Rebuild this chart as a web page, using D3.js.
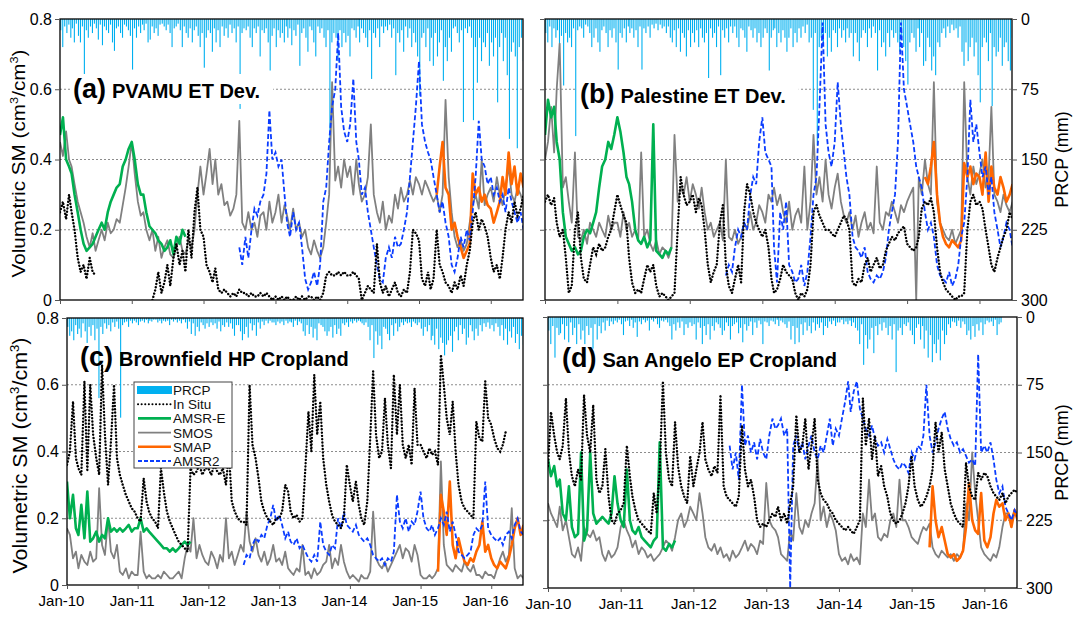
<!DOCTYPE html>
<meta charset="utf-8">
<script src="https://d3js.org/d3.v7.min.js"></script>
<style>
body { margin: 0; background: #fff; }
text { font-family: Arial, "Liberation Sans", sans-serif; }
</style>
<div id="chart"></div>
<script>
// soil moisture series: two values per month (1st and 16th), cm3/cm3
// in situ / AMSR-E / SMOS start Jan 2010, AMSR2 starts Jul 2012, SMAP starts Apr 2015
// rainfall: three values per month (dekads), mm, from Jan 2010

// ---------- (a) PVAMU ET Dev. ----------
var aPrcp = [
12,30,8, 15,6,20, 10,25,5, 18,25,8, 68,12,20, 8,15,5, 10,22,6, 28,8,12, 15,6,25, 34,10,8, 15,20,6, 8,12,18,
54,10,20, 8,15,6, 12,5,25, 22,8,15, 10,18,6, 5,8,12, 6,15,30, 10,8,5, 12,30,8, 15,20,10, 25,12,8, 18,30,15,
52,20,12, 15,35,10, 25,12,30, 8,18,10, 20,6,15, 10,25,8, 96,15,10, 12,8,20, 30,10,15, 8,40,12, 15,10,25, 55,18,10,
30,12,20, 15,25,8, 20,10,28, 12,18,6, 50,15,10, 20,35,8, 12,25,40, 8,15,10, 20,30,12, 135,25,15, 20,45,12, 30,15,25,
18,40,10, 12,20,8, 25,10,15, 20,30,12, 64,15,20, 10,30,8, 15,8,12, 6,20,10, 60,15,25, 12,35,8, 20,10,30, 15,25,40,
82,20,15, 30,10,45, 20,50,15, 40,25,12, 66,30,45, 20,35,10, 8,15,25, 12,110,10, 15,8,20, 108,30,68, 20,45,25, 30,15,50,
25,40,20, 89,30,15, 45,20,60, 128,35,25, 40,138,30, 20,45,30
];
var aInSitu = [
.25,.28,.23,.3,.25,.2,.12,.08,.1,.06,.12,.08,.07,null,null,null,null,null,null,null,null,null,null,null,
null,null,null,null,null,null,null,0,.03,.08,.02,.05,.1,.04,.12,.16,.1,.14,.08,.2,.12,.25,.32,.2,
.18,.1,.08,.05,.09,.03,.02,.03,.02,.01,.02,.01,.03,.02,.02,.01,.02,.01,.01,.02,.01,.02,.01,0,
.01,0,.01,0,.01,0,0,.01,0,.01,0,.01,.01,0,.01,0,.02,.07,.08,.07,.07,.08,.07,.08,
.07,.07,.08,.07,.06,0,.02,.04,.03,.02,.16,.05,.02,.04,.01,.03,.05,.02,.01,.03,.02,.08,.2,.19,
.17,.06,.04,.08,.03,.06,.2,.1,.08,.05,.04,.02,.05,.03,.07,.04,.1,.14,.22,.25,.2,.23,.21,.18,
.12,.08,.1,.06,.12,.2,.25,.22,.28,.24,.26,.3
];
var aAmsrE = [
.47,.52,.4,.38,.36,.3,.25,.2,.16,.14,.15,.16,.18,.2,.22,.2,.25,.28,.3,.32,.33,.38,.4,.43,
.45,.4,.33,.3,.3,.25,.21,.2,.19,.17,.16,.14,.15,.17,.13,.18,.16,.2,.18
];
var aSmos = [
.45,.41,.48,.4,.38,.33,.28,.25,.22,.18,.15,.19,.14,.17,.2,.17,.22,.19,.2,.23,.22,.27,.32,.38,
.45,.36,.28,.24,.25,.2,.17,.2,.14,.18,.12,.15,.17,.13,.12,.15,.18,.14,.13,.17,.15,.2,.3,.38,
.3,.36,.43,.33,.4,.3,.33,.27,.28,.24,.26,.3,.51,.22,.2,.25,.2,.22,.18,.24,.25,.2,.28,.22,
.25,.3,.22,.27,.24,.2,.26,.2,.22,.18,.2,.15,.13,.17,.14,.12,.15,.22,.3,.62,.34,.38,.32,.4,
.35,.38,.3,.4,.33,.28,.3,.35,.5,.3,.25,.22,.28,.2,.24,.22,.3,.26,.32,.28,.3,.34,.3,.35,
.33,.3,.34,.32,.3,.28,.3,.25,.3,.57,.35,.25,.18,.15,.17,.14,.16,.22,.27,.3,.26,.4,.27,.3,
.32,.28,.35,.3,.27,.32,.38,.3,.28,.32,.3,.27
];
var aAmsr2 = [
.15,.1,.18,.12,.2,.26,.24,.28,.3,.36,.54,.4,
.42,.38,.4,.3,.22,.18,.25,.2,.22,.15,.06,.03,.05,.08,.04,.1,.28,.32,.45,.55,.6,.76,.55,.48,
.45,.5,.63,.45,.4,.3,.32,.25,.2,.15,.1,.06,.05,.12,.15,.12,.18,.15,.16,.2,.25,.35,.45,.55,
.68,.5,.45,.42,.4,.35,.3,.25,.28,.22,.18,.1,.08,.12,.18,.15,.2,.17,.25,.35,.51,.4,.38,.33,
.35,.3,.32,.28,.3,.25,.32,.28,.25,.22,.25,.2
];
var aSmap = [
.3,.38,.45,.32,.3,.2,.22,.18,.15,.12,.14,.16,.36,.3,.32,.28,.3,.27,
.26,.22,.25,.28,.35,.3,.42,.33,.38,.3,.36,.32
];

// ---------- (b) Palestine ET Dev. ----------
var bPrcp = [
15,25,8, 30,10,20, 12,35,18, 71,15,25, 20,30,10, 125,12,8, 10,20,6, 8,15,30, 20,10,25, 35,12,8, 15,30,12, 20,10,25,
54,15,20, 10,25,8, 15,10,20, 12,30,8, 54,10,15, 8,20,6, 10,5,12, 6,10,8, 15,8,20, 25,12,30, 10,35,15, 20,40,12,
30,15,25, 12,30,10, 20,25,15, 63,10,20, 15,30,8, 60,12,20, 10,25,8, 15,8,20, 30,10,12, 20,35,8, 12,20,10, 25,15,30,
20,10,15, 55,20,12, 10,30,15, 25,12,20, 35,20,10, 30,15,25, 10,20,8, 15,6,25, 20,97,15, 135,30,20, 25,15,40, 20,35,12,
15,30,10, 20,12,25, 10,20,15, 40,15,25, 45,20,12, 15,30,10, 20,8,15, 55,12,30, 25,40,15, 30,12,20, 15,25,35, 20,30,45,
70,25,15, 20,35,10, 30,15,50, 45,20,30, 55,40,60, 25,30,15, 10,20,8, 15,6,12, 10,20,8, 35,50,25, 45,30,20, 40,25,60,
89,30,20, 25,45,15, 93,30,40, 35,20,50, 30,25,45, 55,20,30
];
var bInSitu = [
.28,.3,.27,.29,.22,.18,.2,.12,.02,.04,.2,.25,.12,.06,.05,.1,.15,.13,.16,.14,.15,.18,.2,.25,
.3,.27,.24,.22,.12,.05,.02,.03,.02,.06,.1,.08,.1,.04,.01,.02,.01,0,.01,.02,.2,.35,.3,.27,
.28,.3,.25,.29,.27,.2,.1,.05,.08,.1,.22,.27,.1,.04,.02,.06,.1,.05,.25,.33,.3,.25,.22,.2,
.18,.2,.15,.06,.02,.03,.06,.1,.08,.07,.06,.02,0,.02,.01,.03,.1,.25,.27,.24,.22,.2,.2,.19,
.18,.2,.22,.24,.23,.2,.05,.04,.06,.05,.1,.12,.08,.1,.12,.09,.1,.14,.16,.18,.17,.19,.2,.21,
.16,.15,.14,.15,.18,.26,.28,.27,.29,.25,.15,.08,.05,.03,.02,.01,0,.01,.01,.02,.2,.28,.3,.27,
.28,.26,.2,.15,.1,.08,.12,.15,.18,.2,.25,.23
];
var bAmsrE = [
.47,.57,.52,.55,.45,.4,.25,.18,.16,.14,.15,.13,.14,.18,.2,.19,.22,.25,.32,.38,.4,.45,.43,.47,
.52,.48,.42,.35,.33,.28,.2,.17,.16,.18,.15,.17,.5,.14,.13,.12,.14,.13,.15
];
var bSmos = [
.4,.45,.55,.42,.6,.73,.32,.35,.28,.22,.42,.18,.17,.2,.16,.22,.2,.18,.22,.2,.18,.24,.2,.22,
.22,.18,.25,.2,.22,.18,.2,.17,.42,.18,.2,.16,.14,.17,.13,.15,.14,.12,.15,.47,.28,.32,.3,.35,
.28,.33,.3,.26,.32,.25,.2,.22,.18,.2,.22,.17,.4,.18,.17,.2,.16,.18,.22,.2,.25,.2,.22,.27,
.25,.22,.3,.28,.32,.27,.3,.25,.22,.28,.2,.24,.26,.22,.38,.2,.28,.47,.3,.35,.28,.4,.3,.26,
.32,.36,.28,.24,.22,.25,.2,.24,.18,.22,.25,.2,.22,.19,.38,.22,.2,.25,.24,.28,.25,.22,.27,.25,
.28,.3,.32,0,.35,.3,.4,.33,.3,.62,.28,.22,.2,.18,.17,.2,.16,.18,.2,.62,.35,.3,.38,.33,
.36,.4,.32,.35,.55,.3,.28,.25,.3,.27,.25,.28
];
var bAmsr2 = [
.07,.1,.08,.15,.2,.18,.22,.2,.3,.35,.33,.45,
.52,.42,.4,.38,.15,.05,.25,.2,.28,.1,.08,.05,.06,.1,.04,.08,.18,.3,.35,.55,.79,.5,.42,.38,
.45,.62,.5,.42,.35,.3,.18,.15,.14,.12,.15,.08,.06,.05,.07,.06,.08,.12,.2,.25,.3,.45,.79,.6,
.55,.5,.45,.38,.35,.32,.25,.2,.22,.18,.1,.07,.06,.05,.08,.04,.06,.1,.18,.22,.35,.57,.45,.5,
.42,.35,.38,.3,.35,.25,.2,.15,.18,.22,.2,.15
];
var bSmap = [
.35,.33,.38,.45,.3,.22,.18,.16,.15,.17,.16,.15,.17,.39,.35,.38,.33,.36,
.35,.3,.42,.28,.38,.32,.3,.35,.32,.28,.3,.33
];

// ---------- (c) Brownfield HP Cropland ----------
var cPrcp = [
10,20,15, 25,8,18, 12,22,6, 15,28,10, 20,8,25, 12,90,10, 18,6,12, 8,15,5, 10,4,12, 112,8,5, 4,10,3, 6,3,5,
8,4,3, 5,2,6, 3,4,2, 2,5,3, 6,3,4, 3,8,2, 4,2,5, 3,6,2, 5,12,4, 18,6,20, 10,15,5, 8,12,6,
10,5,8, 6,12,4, 15,8,10, 5,10,6, 12,20,8, 8,15,25, 18,10,22, 6,14,8, 20,5,12, 4,8,3, 6,3,5, 5,8,4,
6,4,8, 3,6,4, 5,10,3, 8,4,6, 15,20,8, 18,10,22, 12,25,6, 8,10,15, 20,15,10, 22,8,18, 12,20,6, 8,5,10,
4,6,3, 5,3,4, 6,8,5, 10,25,8, 45,15,30, 20,35,10, 12,18,25, 8,20,6, 15,10,5, 8,4,6, 5,10,4, 6,8,5,
12,20,10, 15,8,25, 20,30,12, 35,22,28, 42,30,25, 20,38,15, 10,25,8, 18,12,30, 22,8,15, 25,12,20, 8,15,6, 10,5,12,
8,15,6, 10,20,8, 25,12,30, 15,22,10, 28,18,35, 20,30,25
];
var cInSitu = [
.36,.4,.55,.38,.35,.33,.61,.34,.6,.45,.38,.33,.66,.45,.3,.43,.6,.38,.33,.3,.27,.25,.23,.22,
.2,.19,.32,.25,.22,.2,.19,.17,.35,.28,.22,.19,.17,.15,.13,.12,.11,.1,.35,.33,.34,.36,.33,.35,
.35,.33,.36,.34,.33,.35,.3,.4,.25,.22,.2,.19,.19,.18,.6,.42,.38,.32,.25,.22,.2,.19,.18,.2,
.2,.22,.3,.28,.22,.2,.21,.19,.2,.35,.52,.4,.63,.45,.55,.38,.3,.25,.21,.19,.18,.17,.2,.36,
.3,.25,.31,.24,.2,.18,.25,.44,.64,.45,.38,.4,.56,.42,.35,.63,.45,.6,.42,.38,.42,.36,.59,.42,
.42,.4,.38,.41,.39,.4,.36,.69,.6,.5,.45,.55,.4,.3,.25,.23,.22,.21,.2,.49,.44,.43,.61,.5,
.48,.44,.41,.4,.42,.46,null,null,null,null,null,null
];
var cAmsrE = [
.31,.2,.27,.17,.15,.24,.14,.28,.13,.14,.16,.13,.15,.14,.2,.16,.17,.16,.17,.16,.17,.18,.16,.17,
.17,.2,.16,.17,.16,.15,.14,.13,.12,.11,.11,.1,.11,.1,.11,.12,.13,.12,.13
];
var cSmos = [
.17,.15,.08,.1,.05,.09,.07,.06,.1,.07,.08,.29,.12,.09,.2,.1,.08,.12,.04,.03,.05,.02,.04,.03,
.03,.16,.04,.02,.03,.02,.02,.03,.02,.04,.03,.02,.02,.03,.04,.02,.08,.12,.1,.2,.08,.12,.09,.07,
.06,.1,.08,.05,.09,.07,.2,.08,.1,.06,.09,.12,.1,.22,.13,.1,.14,.09,.07,.1,.06,.08,.12,.07,
.08,.06,.1,.05,.04,.03,.05,.04,.12,.03,.04,.02,.05,.03,.04,.06,.07,.12,.05,.08,.06,.12,.07,.04,
.02,.03,.02,.01,.03,.02,.02,.04,.22,.08,.06,.05,.07,.04,.06,.08,.1,.12,.08,.11,.1,.07,.12,.09,
.03,.02,.02,.03,.02,.03,.05,.37,.12,.06,.05,.04,.06,.05,.04,.07,.05,.04,.06,.03,.03,.02,.04,.03,
.03,.02,.05,.08,.1,.07,.09,.23,.05,.02,.03,.02
];
var cAmsr2 = [
.06,.09,.08,.12,.14,.13,.15,.14,.18,.2,.24,.19,
.21,.18,.14,.16,.13,.12,.14,.11,.12,.1,.08,.07,.09,.07,.19,.12,.1,.09,.12,.11,.2,.17,.22,.18,
.17,.16,.18,.15,.14,.13,.14,.12,.09,.08,.07,.08,.06,.08,.07,.1,.27,.19,.17,.2,.16,.19,.18,.22,
.28,.2,.17,.16,.18,.15,.17,.2,.18,.22,.16,.19,.15,.1,.09,.08,.09,.1,.15,.17,.16,.18,.31,.17,
.15,.14,.13,.14,.12,.15,.16,.14,.18,.2,.16,.15
];
var cSmap = [
.04,.27,.22,.15,.31,.12,.08,.14,.1,.07,.06,.08,.07,.1,.12,.19,.1,.12,
.08,.06,.05,.07,.06,.05,.08,.12,.17,.2,.15,.18
];

// ---------- (d) San Angelo EP Cropland ----------
var dPrcp = [
15,30,10, 45,12,20, 18,8,25, 10,28,6, 20,12,30, 8,25,15, 30,10,20, 12,35,8, 25,10,18, 6,15,4, 10,5,8, 4,6,3,
8,20,5, 4,10,3, 12,6,22, 5,8,3, 6,4,15, 3,5,2, 8,12,4, 5,3,6, 10,25,8, 15,6,12, 5,20,8, 12,6,10,
8,25,6, 12,30,10, 20,8,25, 10,15,6, 8,12,20, 15,6,10, 25,10,8, 6,18,12, 28,8,15, 10,5,20, 6,12,4, 8,30,5,
6,10,4, 5,8,3, 10,4,6, 8,12,5, 25,10,30, 12,28,8, 20,6,15, 10,18,6, 15,8,12, 6,20,10, 12,5,8, 4,10,6,
6,3,8, 5,8,4, 10,6,12, 15,30,8, 53,20,35, 25,12,40, 10,20,8, 15,6,12, 20,10,25, 8,61,15, 12,20,8, 10,6,15,
20,30,12, 8,25,10, 35,15,45, 20,50,30, 40,25,48, 15,30,20, 8,12,5, 6,10,4, 12,5,8, 20,15,25, 10,22,8, 15,6,20,
8,4,6, 5,10,3, 20,8,6, 0,0,0, 0,0,0, 0,0,0
];
var dInSitu = [
.36,.52,.45,.4,.38,.42,.56,.4,.33,.3,.35,.32,.57,.45,.4,.54,.32,.28,.3,.41,.27,.2,.19,.22,
.23,.25,.42,.33,.27,.23,.2,.19,.18,.17,.16,.28,.22,.35,.61,.4,.32,.3,.49,.36,.3,.27,.25,.39,
.3,.35,.4,.49,.38,.35,.33,.36,.34,.57,.3,.27,.26,.25,.24,.27,.48,.35,.3,.32,.27,.2,.18,.19,
.18,.2,.22,.21,.24,.2,.22,.19,.25,.3,.51,.4,.42,.5,.35,.42,.5,.32,.28,.26,.25,.23,.22,.2,
.19,.18,.17,.18,.17,.16,.18,.2,.56,.42,.5,.38,.45,.33,.36,.3,.27,.22,.2,.19,.2,.22,.25,.3,
.39,.3,.26,.24,.25,.27,.3,.35,.49,.4,.46,.35,.3,.25,.22,.2,.19,.18,.37,.3,.27,.26,.34,.32,
.34,.33,.3,.28,.27,.26,.28,.25,.27,.28,.29,.28
];
var dAmsrE = [
.38,.33,.36,.3,.32,.22,.2,.3,.18,.15,.16,.4,.14,.17,.4,.22,.19,.2,.21,.2,.19,.22,.33,.25,
.2,.18,.35,.2,.17,.16,.18,.15,.14,.13,.12,.14,.15,.43,.12,.11,.13,.12,.14
];
var dSmos = [
.25,.22,.2,.18,.24,.17,.2,.15,.1,.09,.12,.08,.18,.16,.15,.17,.14,.15,.1,.08,.11,.09,.1,.12,
.18,.2,.17,.15,.12,.14,.1,.12,.11,.09,.1,.08,.09,.1,.12,.14,.13,.11,.15,.2,.22,.18,.2,.24,
.22,.2,.28,.22,.15,.12,.11,.13,.1,.12,.09,.1,.08,.11,.09,.1,.12,.14,.11,.13,.12,.1,.14,.13,
.31,.2,.18,.17,.15,.1,.09,.08,.17,.14,.28,.18,.16,.2,.18,.22,.25,.38,.2,.24,.18,.22,.2,.17,
.1,.08,.09,.07,.1,.08,.09,.07,.22,.18,.32,.2,.22,.15,.14,.16,.15,.2,.22,.18,.32,.2,.2,.18,
.15,.14,.13,.16,.18,.17,.19,.12,.1,.09,.11,.1,.09,.1,.08,.1,.09,.11,.25,.2,.4,.28,.2,.12,
.1,.09,.08,.1,.09,.12,.18,.22,.22,.2,.23,.21
];
var dAmsr2 = [
.42,.35,.4,.32,.6,.42,.45,.4,.43,.38,.44,.4,
.38,.45,.5,.47,.48,.5,.45,.47,0,.42,.45,.4,.43,.38,.42,.45,.4,.38,.42,.4,.45,.5,.42,.47,
.45,.5,.55,.61,.52,.58,.61,.53,.5,.47,.45,.48,.44,.42,.43,.4,.44,.41,.38,.36,.35,.37,.36,.34,
.4,.38,.42,.41,.45,.6,.45,.4,.43,.47,.5,.52,.47,.44,.42,.43,.4,.41,.39,.37,.38,.36,.69,.4,
.42,.4,.43,.38,.32,.28,.3,.24,.22,.2,.23,.21
];
var dSmap = [
.12,.3,.2,.15,.18,.14,.1,.09,.1,.08,.09,.11,.18,.31,.2,.17,.16,.28,
.14,.12,.15,.22,.26,.24,.25,.2,.22,.18,.23,.2
];

var smTicks = [0, 0.2, 0.4, 0.6, 0.8];
var prTicks = [0, 75, 150, 225, 300];

var panels = [
  {tag: "(a)", name: "PVAMU ET Dev.", x0: 60, x1: 523, y0: 19, y1: 300, left: true, bottom: false,
   prcp: aPrcp, insitu: aInSitu, amsre: aAmsrE, smos: aSmos, amsr2: aAmsr2, smap: aSmap,
   tx: 73, ty: 98, box: true},
  {tag: "(b)", name: "Palestine ET Dev.", x0: 545, x1: 1012, y0: 19, y1: 300, left: false, bottom: false,
   prcp: bPrcp, insitu: bInSitu, amsre: bAmsrE, smos: bSmos, amsr2: bAmsr2, smap: bSmap,
   tx: 580, ty: 103, box: true},
  {tag: "(c)", name: "Brownfield HP Cropland", x0: 67, x1: 523, y0: 318, y1: 585, left: true, bottom: true,
   prcp: cPrcp, insitu: cInSitu, amsre: cAmsrE, smos: cSmos, amsr2: cAmsr2, smap: cSmap,
   tx: 80, ty: 366, box: false, legend: true, labShift: -6},
  {tag: "(d)", name: "San Angelo EP Cropland", x0: 548, x1: 1017, y0: 317, y1: 588, left: false, bottom: true,
   prcp: dPrcp, insitu: dInSitu, amsre: dAmsrE, smos: dSmos, amsr2: dAmsr2, smap: dSmap,
   tx: 562, ty: 367, box: false, labShift: 0}
];

var colors = {prcp: "#00b0f0", insitu: "#000", amsre: "#00b050", smos: "#808080", smap: "#ff6600", amsr2: "#0a3cff"};

var svg = d3.select("#chart").append("svg")
  .attr("width", 1078).attr("height", 617)
  .style("background", "#fff");

function semiDate(i) { return new Date(2010, Math.floor(i / 2), i % 2 ? 16 : 1); }
function dekDate(j) { return new Date(2010, Math.floor(j / 3), 1 + (j % 3) * 10 + 4); }
function pts(vals, start) { return vals.map(function(v, k) { return {d: semiDate(start + k), v: v}; }); }

panels.forEach(function(p, pi) {
  var x = d3.scaleTime().domain([new Date(2010, 0, 1), new Date(2016, 5, 13)]).range([p.x0, p.x1]);
  var y = d3.scaleLinear().domain([0, 0.8]).range([p.y1, p.y0]);
  var yr = d3.scaleLinear().domain([0, 300]).range([p.y0, p.y1]);

  var g = svg.append("g");
  var cid = "clip" + pi;
  g.append("clipPath").attr("id", cid).append("rect")
    .attr("x", p.x0).attr("y", p.y0).attr("width", p.x1 - p.x0).attr("height", p.y1 - p.y0);

  // gridlines
  g.selectAll(".grid").data([0.2, 0.4, 0.6]).enter().append("line")
    .attr("x1", p.x0).attr("x2", p.x1)
    .attr("y1", function(d) { return y(d); }).attr("y2", function(d) { return y(d); })
    .attr("stroke", "#8c8c8c").attr("stroke-width", 1).attr("stroke-dasharray", "2,2");

  var plot = g.append("g").attr("clip-path", "url(#" + cid + ")");

  // rainfall bars hanging from the top
  plot.selectAll(".bar").data(p.prcp).enter().append("rect")
    .attr("x", function(d, j) { return x(dekDate(j)) - 0.55; })
    .attr("y", p.y0)
    .attr("width", 1.1)
    .attr("height", function(d) { return yr(d) - p.y0; })
    .attr("fill", colors.prcp);

  var line = d3.line()
    .defined(function(d) { return d.v != null; })
    .x(function(d) { return x(d.d); })
    .y(function(d) { return y(d.v); });

  plot.append("path").datum(pts(p.smos, 0)).attr("d", line)
    .attr("fill", "none").attr("stroke", colors.smos).attr("stroke-width", 1.8).attr("stroke-linejoin", "round");
  plot.append("path").datum(pts(p.amsre, 0)).attr("d", line)
    .attr("fill", "none").attr("stroke", colors.amsre).attr("stroke-width", 2.6).attr("stroke-linejoin", "round");
  plot.append("path").datum(pts(p.smap, 126)).attr("d", line)
    .attr("fill", "none").attr("stroke", colors.smap).attr("stroke-width", 2.6).attr("stroke-linejoin", "round");
  plot.append("path").datum(pts(p.amsr2, 60)).attr("d", line)
    .attr("fill", "none").attr("stroke", colors.amsr2).attr("stroke-width", 1.8).attr("stroke-dasharray", "5,2.5");
  plot.append("path").datum(pts(p.insitu, 0)).attr("d", line)
    .attr("fill", "none").attr("stroke", colors.insitu).attr("stroke-width", 2.4)
    .attr("stroke-linecap", "round").attr("stroke-dasharray", "0.1,3.2");

  // panel title
  var t = g.append("text").attr("x", p.tx).attr("y", p.ty).attr("fill", "#000");
  t.append("tspan").text(p.tag).attr("font-size", 27).attr("font-weight", "bold");
  t.append("tspan").text(p.name).attr("dx", 6).attr("font-size", 20).attr("font-weight", "bold");
  if (p.box) {
    var bb = t.node().getBBox();
    g.insert("rect", function() { return t.node(); })
      .attr("x", bb.x - 3).attr("y", bb.y).attr("width", bb.width + 16).attr("height", bb.height)
      .attr("fill", "#fff");
  }

  // frame
  g.append("rect").attr("x", p.x0).attr("y", p.y0)
    .attr("width", p.x1 - p.x0).attr("height", p.y1 - p.y0)
    .attr("fill", "none").attr("stroke", "#000").attr("stroke-width", 1.3);

  // left axis
  var la = g.append("g").attr("transform", "translate(" + p.x0 + ",0)")
    .call(d3.axisLeft(y).tickValues(smTicks).tickSize(5)
      .tickFormat(p.left ? function(d) { return d === 0 ? "0" : d3.format(".1f")(d); } : ""));
  la.select(".domain").remove();
  la.selectAll("text").attr("font-size", 16).attr("font-family", "Arial, 'Liberation Sans', sans-serif").attr("fill", "#000");
  la.selectAll("line").attr("stroke", "#555");

  // right axis (rainfall)
  if (!p.left) {
    var ra = g.append("g").attr("transform", "translate(" + p.x1 + ",0)")
      .call(d3.axisRight(yr).tickValues(prTicks).tickSize(5));
    ra.select(".domain").remove();
    ra.selectAll("text").attr("font-size", 16).attr("font-family", "Arial, 'Liberation Sans', sans-serif").attr("fill", "#000").attr("x", 9);
    ra.selectAll("line").attr("stroke", "#555");
    g.append("text")
      .attr("transform", "translate(1068," + ((p.y0 + p.y1) / 2) + ") rotate(-90)")
      .attr("text-anchor", "middle").attr("font-size", 18).attr("fill", "#000")
      .text("PRCP (mm)");
  } else {
    var big = pi === 0 ? 18 : 20;
    var yl = g.append("text")
      .attr("transform", "translate(" + (pi === 0 ? 25 : 27) + "," + ((p.y0 + p.y1) / 2 + 4) + ") rotate(-90)")
      .attr("text-anchor", "middle").attr("font-size", big).attr("fill", "#000")
      .attr("textLength", pi === 0 ? 228 : 236).attr("lengthAdjust", "spacingAndGlyphs");
    yl.append("tspan").text("Volumetric SM (cm");
    yl.append("tspan").text("3").attr("font-size", big * 0.62).attr("dy", -big * 0.4);
    yl.append("tspan").text("/cm").attr("dy", big * 0.4);
    yl.append("tspan").text("3").attr("font-size", big * 0.62).attr("dy", -big * 0.4);
    yl.append("tspan").text(")").attr("dy", big * 0.4);
  }

  // bottom axis
  var ba = g.append("g").attr("transform", "translate(0," + p.y1 + ")")
    .call(d3.axisBottom(x).ticks(d3.timeYear.every(1)).tickSize(4)
      .tickFormat(p.bottom ? d3.timeFormat("Jan-%y") : ""));
  ba.select(".domain").remove();
  ba.selectAll("line").attr("stroke", "#555");
  ba.selectAll("text")
    .attr("font-size", 15).attr("fill", "#000")
    .attr("font-family", "'Liberation Sans Narrow', 'Arial Narrow', 'DejaVu Sans Condensed', sans-serif")
    .attr("dx", p.labShift || 0).attr("y", 10);

  // legend
  if (p.legend) {
    var lg = g.append("g");
    lg.append("rect").attr("x", 134).attr("y", 382).attr("width", 98).attr("height", 86)
      .attr("fill", "#fff").attr("stroke", "#444").attr("stroke-width", 1);
    var items = [
      {k: "prcp", label: "PRCP"}, {k: "insitu", label: "In Situ"}, {k: "amsre", label: "AMSR-E"},
      {k: "smos", label: "SMOS"}, {k: "smap", label: "SMAP"}, {k: "amsr2", label: "AMSR2"}
    ];
    items.forEach(function(it, i) {
      var yy = 390 + i * 14.2;
      if (it.k === "prcp") {
        lg.append("rect").attr("x", 137).attr("y", yy - 4).attr("width", 35).attr("height", 8).attr("fill", colors.prcp);
      } else {
        var l = lg.append("line").attr("x1", 138).attr("x2", 171).attr("y1", yy).attr("y2", yy)
          .attr("stroke", colors[it.k]);
        if (it.k === "insitu") l.attr("stroke-width", 2).attr("stroke-linecap", "round").attr("stroke-dasharray", "0.1,3.5");
        else if (it.k === "amsr2") l.attr("stroke-width", 1.8).attr("stroke-dasharray", "4,2");
        else if (it.k === "smos") l.attr("stroke-width", 1.6);
        else l.attr("stroke-width", 2.6);
      }
      lg.append("text").attr("x", 173).attr("y", yy + 5)
        .attr("font-size", 13.5).attr("fill", "#111")
        .attr("font-family", "Arial, 'Liberation Sans', sans-serif")
        .text(it.label);
    });
  }
});
</script>
